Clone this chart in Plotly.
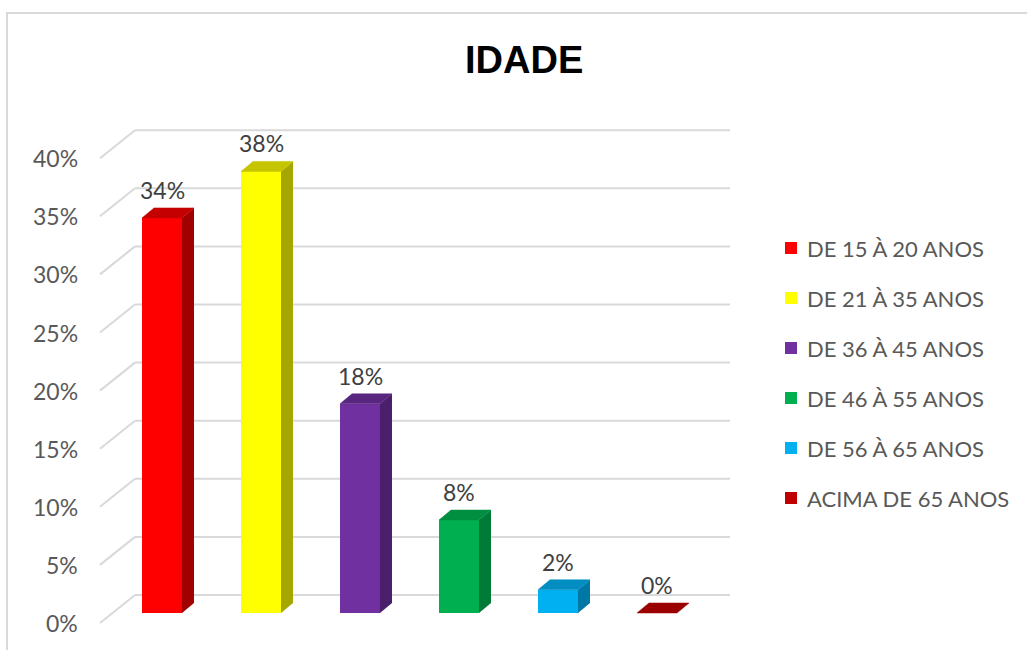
import plotly.graph_objects as go

# Age distribution data
categories = ["DE 15 À 20 ANOS", "DE 21 À 35 ANOS", "DE 36 À 45 ANOS",
              "DE 46 À 55 ANOS", "DE 56 À 65 ANOS", "ACIMA DE 65 ANOS"]
values = [34, 38, 18, 8, 2, 0]
tick_values = [0, 5, 10, 15, 20, 25, 30, 35, 40]

front_colors = ["#FF0000", "#FFFF00", "#7030A0", "#00B050", "#00B0F0", "#C00000"]
top_colors = ["#C40000", "#C4C400", "#58257F", "#008F40", "#008EC2", "#9A0000"]
side_colors = ["#A00000", "#A6A600", "#4A1F6B", "#007A37", "#0078A5", "#800000"]

W, H = 1027, 650
# pixel geometry of the projected chart
PX_CAT = 99.0          # pixels per category step
PX_PCT = 11.62         # pixels per percentage point
X_FIRST = 162.0        # pixel centre of the first bar
Y_BASE = 613.0         # pixel row of the bar front bottom

def dx(px):
    return px / PX_CAT

def dy(px):
    return px / PX_PCT

bar_w = dx(40)
depth_x, depth_y = dx(12), dy(10)

fig = go.Figure()

# front faces
fig.add_trace(go.Bar(
    x=list(range(len(values))), y=values, width=bar_w,
    marker=dict(color=front_colors, line=dict(width=0)),
    showlegend=False, hoverinfo="skip",
))

# side and top faces
for i, v in enumerate(values):
    xl, xr = i - bar_w / 2, i + bar_w / 2
    if v > 0:
        fig.add_trace(go.Scatter(
            x=[xr, xr + depth_x, xr + depth_x, xr, xr],
            y=[0, depth_y, v + depth_y, v, 0],
            mode="lines", fill="toself", fillcolor=side_colors[i],
            line=dict(width=0, color=side_colors[i]),
            showlegend=False, hoverinfo="skip",
        ))
    fig.add_trace(go.Scatter(
        x=[xl, xr, xr + depth_x, xl + depth_x, xl],
        y=[v, v, v + depth_y, v + depth_y, v],
        mode="lines", fill="toself", fillcolor=top_colors[i],
        line=dict(width=0.5, color=top_colors[i]),
        showlegend=False, hoverinfo="skip",
    ))

# floor/back-wall gridlines and value axis labels
grid_front_x = dx(100 - X_FIRST)
grid_back_x0 = dx(135 - X_FIRST)
grid_back_x1 = dx(730 - X_FIRST)
front_off = -dy(10)
back_off = dy(18)
shapes = []
annotations = []
for t in tick_values:
    shapes.append(dict(type="line", xref="x", yref="y", layer="below",
                       x0=grid_front_x, y0=t + front_off,
                       x1=grid_back_x0, y1=t + back_off,
                       line=dict(color="#D9D9D9", width=2)))
    shapes.append(dict(type="line", xref="x", yref="y", layer="below",
                       x0=grid_back_x0, y0=t + back_off,
                       x1=grid_back_x1, y1=t + back_off,
                       line=dict(color="#D9D9D9", width=2)))
    annotations.append(dict(x=dx(80 - X_FIRST), y=t + front_off, xref="x", yref="y",
                            text=f"{t}%", showarrow=False, xanchor="right",
                            yanchor="middle",
                            font=dict(family="Lato", size=23, color="#595959")))

# value labels
for i, v in enumerate(values):
    annotations.append(dict(x=i, y=v, xref="x", yref="y", yshift=28,
                            text=f"{v}%", showarrow=False, xanchor="center",
                            yanchor="middle",
                            font=dict(family="Lato", size=23, color="#404040")))

# legend
for k, (name, col) in enumerate(zip(categories, front_colors)):
    cy = 248 + 50 * k
    shapes.append(dict(type="rect", xref="paper", yref="paper",
                       x0=785 / W, x1=797 / W,
                       y0=1 - (cy + 6) / H, y1=1 - (cy - 6) / H,
                       fillcolor=col, line=dict(width=0)))
    annotations.append(dict(x=805 / W, y=1 - cy / H, xref="paper", yref="paper",
                            text=name, showarrow=False, xanchor="left",
                            yanchor="middle",
                            font=dict(family="Lato", size=22, color="#595959")))

# title
annotations.append(dict(x=524 / W, y=1 - 60 / H, xref="paper", yref="paper",
                        text="<b>IDADE</b>", showarrow=False, xanchor="center",
                        yanchor="middle",
                        font=dict(family="Liberation Sans", size=38, color="#000000")))

# chart border
shapes.append(dict(type="rect", xref="paper", yref="paper", layer="below",
                   x0=7 / W, x1=1.05, y0=-0.05, y1=1 - 13 / H,
                   line=dict(color="#D9D9D9", width=2)))

fig.update_layout(
    width=W, height=H,
    margin=dict(l=0, r=0, t=0, b=0),
    paper_bgcolor="white", plot_bgcolor="white",
    xaxis=dict(range=[dx(0 - X_FIRST), dx(W - X_FIRST)], visible=False, fixedrange=True),
    yaxis=dict(range=[-dy(H - Y_BASE), dy(Y_BASE)], visible=False, fixedrange=True),
    shapes=shapes, annotations=annotations,
    showlegend=False, bargap=0,
)

fig.write_html("out.html")
